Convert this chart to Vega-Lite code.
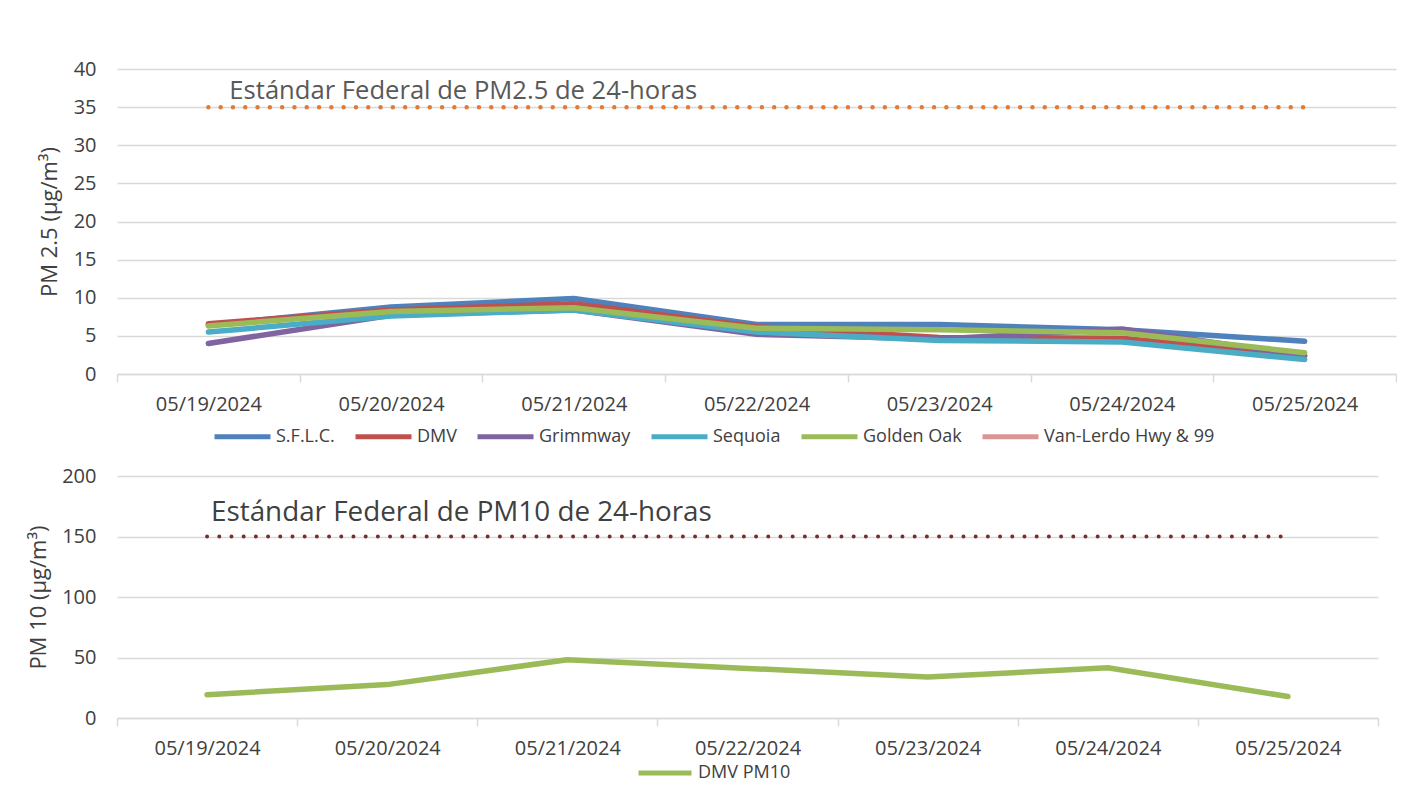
{
  "$schema": "https://vega.github.io/schema/vega-lite/v6.json",
  "padding": {"left": 27, "top": 59, "right": 0, "bottom": 0},
  "background": "white",
  "bounds": "flush",
  "spacing": 102,
  "config": {
    "view": {"stroke": null},
    "font": "Open Sans",
    "axis": {
      "labelFont": "Open Sans",
      "titleFont": "Open Sans",
      "labelFontSize": 20,
      "titleFontSize": 22,
      "titleFontWeight": "normal",
      "labelColor": "#404040",
      "titleColor": "#404040",
      "gridColor": "#D9D9D9",
      "gridWidth": 1.5,
      "domainColor": "#D9D9D9",
      "domainWidth": 1.5,
      "tickColor": "#D9D9D9",
      "tickWidth": 1.5
    }
  },
  "resolve": {
    "scale": {"color": "independent", "x": "independent", "y": "independent"},
    "legend": {"color": "independent"}
  },
  "datasets": {
    "pm25": [
      {"series": "S.F.L.C.", "date": "05/19/2024", "value": 6.4},
      {"series": "S.F.L.C.", "date": "05/20/2024", "value": 8.8},
      {"series": "S.F.L.C.", "date": "05/21/2024", "value": 9.9},
      {"series": "S.F.L.C.", "date": "05/22/2024", "value": 6.5},
      {"series": "S.F.L.C.", "date": "05/23/2024", "value": 6.5},
      {"series": "S.F.L.C.", "date": "05/24/2024", "value": 5.8},
      {"series": "S.F.L.C.", "date": "05/25/2024", "value": 4.3},
      {"series": "DMV", "date": "05/19/2024", "value": 6.6},
      {"series": "DMV", "date": "05/20/2024", "value": 8.4},
      {"series": "DMV", "date": "05/21/2024", "value": 9.2},
      {"series": "DMV", "date": "05/22/2024", "value": 6.2},
      {"series": "DMV", "date": "05/23/2024", "value": 4.8},
      {"series": "DMV", "date": "05/24/2024", "value": 4.7},
      {"series": "DMV", "date": "05/25/2024", "value": 2.4},
      {"series": "Grimmway", "date": "05/19/2024", "value": 4.0},
      {"series": "Grimmway", "date": "05/20/2024", "value": 7.7},
      {"series": "Grimmway", "date": "05/21/2024", "value": 8.4},
      {"series": "Grimmway", "date": "05/22/2024", "value": 5.2},
      {"series": "Grimmway", "date": "05/23/2024", "value": 4.6},
      {"series": "Grimmway", "date": "05/24/2024", "value": 5.9},
      {"series": "Grimmway", "date": "05/25/2024", "value": 2.4},
      {"series": "Sequoia", "date": "05/19/2024", "value": 5.5},
      {"series": "Sequoia", "date": "05/20/2024", "value": 7.6},
      {"series": "Sequoia", "date": "05/21/2024", "value": 8.4},
      {"series": "Sequoia", "date": "05/22/2024", "value": 5.5},
      {"series": "Sequoia", "date": "05/23/2024", "value": 4.4},
      {"series": "Sequoia", "date": "05/24/2024", "value": 4.2},
      {"series": "Sequoia", "date": "05/25/2024", "value": 1.9},
      {"series": "Golden Oak", "date": "05/19/2024", "value": 6.3},
      {"series": "Golden Oak", "date": "05/20/2024", "value": 8.2},
      {"series": "Golden Oak", "date": "05/21/2024", "value": 8.7},
      {"series": "Golden Oak", "date": "05/22/2024", "value": 6.0},
      {"series": "Golden Oak", "date": "05/23/2024", "value": 5.8},
      {"series": "Golden Oak", "date": "05/24/2024", "value": 5.4},
      {"series": "Golden Oak", "date": "05/25/2024", "value": 2.8}
    ],
    "std25": [
      {"date": "05/19/2024", "value": 35},
      {"date": "05/25/2024", "value": 35}
    ],
    "label25": [
      {"date": "05/19/2024", "value": 37.1, "label": "Estándar Federal de PM2.5 de 24-horas"}
    ],
    "pm10": [
      {"series": "DMV PM10", "date": "05/19/2024", "value": 19.3},
      {"series": "DMV PM10", "date": "05/20/2024", "value": 27.6},
      {"series": "DMV PM10", "date": "05/21/2024", "value": 48.2},
      {"series": "DMV PM10", "date": "05/22/2024", "value": 41},
      {"series": "DMV PM10", "date": "05/23/2024", "value": 33.8},
      {"series": "DMV PM10", "date": "05/24/2024", "value": 41.5},
      {"series": "DMV PM10", "date": "05/25/2024", "value": 17.8}
    ],
    "std10": [
      {"date": "05/19/2024", "value": 150},
      {"date": "05/25/2024", "value": 150}
    ],
    "label10": [
      {"date": "05/19/2024", "value": 169.4, "label": "Estándar Federal de PM10 de 24-horas"}
    ]
  },
  "vconcat": [
    {
      "width": 1279,
      "height": 305,
      "encoding": {
        "x": {
          "field": "date", "type": "nominal", "bandPosition": 0.5,
          "scale": {"type": "band", "paddingInner": 0, "paddingOuter": 0,
            "domain": ["05/19/2024","05/20/2024","05/21/2024","05/22/2024","05/23/2024","05/24/2024","05/25/2024"]},
          "axis": {"title": null, "labelAngle": 0, "tickBand": "extent", "grid": false, "tickSize": 8, "labelPadding": 12}
        },
        "y": {
          "field": "value", "type": "quantitative",
          "scale": {"domain": [0, 40], "nice": false, "zero": true},
          "axis": {"title": "PM 2.5 (µg/m³)", "values": [0,5,10,15,20,25,30,35,40], "domain": false, "ticks": false, "labelPadding": 21, "titlePadding": 12, "grid": true}
        }
      },
      "layer": [
        {
          "data": {"name": "pm25"},
          "mark": {"type": "line", "strokeWidth": 5.5, "strokeCap": "round", "strokeJoin": "round"},
          "encoding": {
            "color": {
              "field": "series", "type": "nominal",
              "scale": {
                "domain": ["S.F.L.C.", "DMV", "Grimmway", "Sequoia", "Golden Oak", "Van-Lerdo Hwy & 99"],
                "range": ["#4F81BD", "#C0504D", "#8064A2", "#4BACC6", "#9BBB59", "#D99694"]
              },
              "legend": {
                "orient": "none", "legendX": 95, "legendY": 337,
                "direction": "horizontal", "columns": 6, "title": null,
                "symbolType": "stroke", "symbolSize": 3136, "symbolStrokeWidth": 5,
                "labelFont": "Open Sans", "labelFontSize": 18, "labelColor": "#404040",
                "labelOffset": 3, "columnPadding": 10, "labelLimit": 0
              }
            },
            "order": {"field": "series"}
          }
        },
        {
          "data": {"name": "std25"},
          "mark": {"type": "line", "color": "#E07B39", "strokeWidth": 4.5, "strokeCap": "round", "strokeDash": [0, 12.3]},
          "encoding": {}
        },
        {
          "data": {"name": "label25"},
          "mark": {"type": "text", "align": "left", "baseline": "middle", "dx": 21, "fontSize": 25.6, "color": "#595959", "font": "Open Sans"},
          "encoding": {"text": {"field": "label"}}
        }
      ]
    },
    {
      "width": 1261,
      "height": 242,
      "encoding": {
        "x": {
          "field": "date", "type": "nominal", "bandPosition": 0.5,
          "scale": {"type": "band", "paddingInner": 0, "paddingOuter": 0,
            "domain": ["05/19/2024","05/20/2024","05/21/2024","05/22/2024","05/23/2024","05/24/2024","05/25/2024"]},
          "axis": {"title": null, "labelAngle": 0, "tickBand": "extent", "grid": false, "tickSize": 8, "labelPadding": 12}
        },
        "y": {
          "field": "value", "type": "quantitative",
          "scale": {"domain": [0, 200], "nice": false, "zero": true},
          "axis": {"title": "PM 10 (µg/m³)", "values": [0,50,100,150,200], "domain": false, "ticks": false, "labelPadding": 21, "titlePadding": 11, "grid": true}
        }
      },
      "layer": [
        {
          "data": {"name": "pm10"},
          "mark": {"type": "line", "strokeWidth": 5.5, "strokeCap": "round", "strokeJoin": "round"},
          "encoding": {
            "color": {
              "field": "series", "type": "nominal",
              "scale": {"domain": ["DMV PM10"], "range": ["#9BBB59"]},
              "legend": {
                "orient": "none", "legendX": 519, "legendY": 268,
                "direction": "horizontal", "title": null,
                "symbolType": "stroke", "symbolSize": 2809, "symbolStrokeWidth": 5,
                "labelFont": "Open Sans", "labelFontSize": 18, "labelColor": "#404040",
                "labelOffset": 4, "labelLimit": 0
              }
            }
          }
        },
        {
          "data": {"name": "std10"},
          "mark": {"type": "line", "color": "#7B2C2C", "strokeWidth": 4, "strokeCap": "round", "strokeDash": [0, 12.2]},
          "encoding": {}
        },
        {
          "data": {"name": "label10"},
          "mark": {"type": "text", "align": "left", "baseline": "middle", "dx": 4, "fontSize": 27.8, "color": "#404040", "font": "Open Sans"},
          "encoding": {"text": {"field": "label"}}
        }
      ]
    }
  ]
}
